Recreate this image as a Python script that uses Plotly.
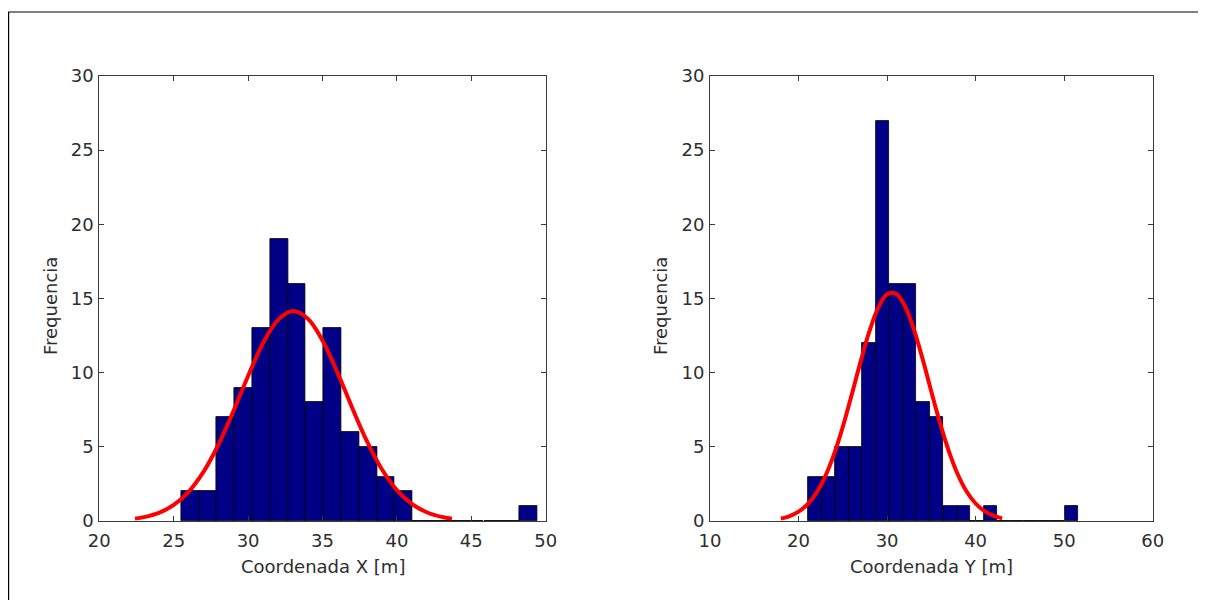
import plotly.graph_objects as go
from plotly.subplots import make_subplots

# ---- data ----
x_bin_centers = [26.09, 27.29, 28.48, 29.68, 30.88, 32.07, 33.27, 34.47, 35.67, 36.86,
                 38.06, 39.26, 40.45, 41.65, 42.85, 44.05, 45.24, 46.44, 47.64, 48.83]
x_counts = [2, 2, 7, 9, 13, 19, 16, 8, 13, 6, 5, 3, 2, 0, 0, 0, 0, 0, 0, 1]
x_bin_width = 1.197

y_bin_centers = [21.86, 23.39, 24.91, 26.44, 27.96, 29.49, 31.01, 32.54, 34.06, 35.59,
                 37.11, 38.64, 40.16, 41.69, 43.21, 44.74, 46.26, 47.79, 49.31, 50.84]
y_counts = [3, 3, 5, 5, 12, 27, 16, 16, 8, 7, 1, 1, 0, 1, 0, 0, 0, 0, 0, 1]
y_bin_width = 1.525

# fitted curves
fit_x_x = [22.4, 23, 24, 25, 26, 27, 28, 29, 30, 31, 32, 33, 34, 35, 36, 37, 38, 39,
           40, 41, 42, 43, 43.7]
fit_x_y = [0.16, 0.26, 0.55, 1.08, 1.97, 3.31, 5.14, 7.38, 9.78, 11.98, 13.54, 14.15,
           13.65, 12.17, 10.02, 7.62, 5.35, 3.47, 2.08, 1.15, 0.59, 0.28, 0.16]
fit_y_x = [18, 19, 20, 21, 22, 23, 24, 25, 26, 27, 28, 29, 30, 31, 32, 33, 34, 35, 36,
           37, 38, 39, 40, 41, 42, 43]
fit_y_y = [0.16, 0.33, 0.63, 1.12, 1.88, 2.99, 4.49, 6.35, 8.50, 10.73, 12.78, 14.38,
           15.28, 15.32, 14.51, 12.97, 10.95, 8.72, 6.56, 4.66, 3.12, 1.97, 1.18, 0.67,
           0.36, 0.18]

x_ticks = [20, 25, 30, 35, 40, 45, 50]
y2_ticks = [10, 20, 30, 40, 50, 60]
freq_ticks = [0, 5, 10, 15, 20, 25, 30]

x_title = "Coordenada X [m]"
y_title_right = "Coordenada Y [m]"
freq_title = "Frequencia"

# ---- styling / layout ----
FONT = "DejaVu Sans"
FS = 18
TXT = "#2e2e2e"
AX = "#3a3a3a"
BAR = "rgb(0,0,135)"
OFF = 8            # page body margin
W, H = 1206 - 2 * OFF, 608 - 2 * OFF


def px(X):
    return (X - OFF) / W


def py(Y):
    return 1 - (Y - OFF) / H


fig = make_subplots(rows=1, cols=2)

fig.add_trace(go.Bar(x=x_bin_centers, y=x_counts, width=[x_bin_width] * len(x_counts),
                     marker=dict(color=BAR, line=dict(color="black", width=0.8)),
                     showlegend=False), row=1, col=1)
fig.add_trace(go.Scatter(x=fit_x_x, y=fit_x_y, mode="lines",
                         line=dict(color="#ff0000", width=4, shape="spline"),
                         showlegend=False), row=1, col=1)
fig.add_trace(go.Bar(x=y_bin_centers, y=y_counts, width=[y_bin_width] * len(y_counts),
                     marker=dict(color=BAR, line=dict(color="black", width=0.8)),
                     showlegend=False), row=1, col=2)
fig.add_trace(go.Scatter(x=fit_y_x, y=fit_y_y, mode="lines",
                         line=dict(color="#ff0000", width=4, shape="spline"),
                         showlegend=False), row=1, col=2)

common_axis = dict(showline=True, linecolor=AX, linewidth=1, mirror="ticks",
                   ticks="inside", ticklen=5, tickcolor=AX, showgrid=False,
                   zeroline=False, automargin=False,
                   tickfont=dict(family=FONT, size=FS, color=TXT))
fig.update_xaxes(common_axis, ticklabelstandoff=3)
fig.update_yaxes(common_axis, ticklabelstandoff=1)

dom_y = [py(521), py(76)]
LX = (99.3, 545.7)
RX = (710.0, 1152.7)
fig.update_layout(
    xaxis=dict(domain=[px(LX[0]), px(LX[1])], range=[20, 50], tickvals=x_ticks),
    xaxis2=dict(domain=[px(RX[0]), px(RX[1])], range=[10, 60], tickvals=y2_ticks),
    yaxis=dict(domain=dom_y, range=[0, 30], tickvals=freq_ticks),
    yaxis2=dict(domain=dom_y, range=[0, 30], tickvals=freq_ticks),
)

tfont = dict(family=FONT, size=FS, color=TXT)
annotations = [
    dict(text=x_title, x=px((LX[0] + LX[1]) / 2), y=py(566), xref="paper", yref="paper",
         xanchor="center", yanchor="middle", showarrow=False, font=tfont),
    dict(text=y_title_right, x=px((RX[0] + RX[1]) / 2), y=py(566), xref="paper",
         yref="paper", xanchor="center", yanchor="middle", showarrow=False, font=tfont),
    dict(text=freq_title, x=px(50), y=py(306), xref="paper", yref="paper",
         xanchor="center", yanchor="middle", textangle=-90, showarrow=False, font=tfont),
    dict(text=freq_title, x=px(660), y=py(306), xref="paper", yref="paper",
         xanchor="center", yanchor="middle", textangle=-90, showarrow=False, font=tfont),
]

fig.update_layout(
    width=W, height=H, margin=dict(l=0, r=0, t=0, b=0, autoexpand=False),
    paper_bgcolor="white", plot_bgcolor="white", bargap=0,
    font=dict(family=FONT, size=FS, color=TXT),
    annotations=annotations,
    shapes=[
        dict(type="line", xref="paper", yref="paper", x0=px(8.6), x1=px(8.6),
             y0=0, y1=py(12), line=dict(color="black", width=1.2)),
        dict(type="line", xref="paper", yref="paper", x0=px(8), x1=1,
             y0=py(12), y1=py(12), line=dict(color="black", width=1.2)),
    ],
)

fig.write_html("out.html")
